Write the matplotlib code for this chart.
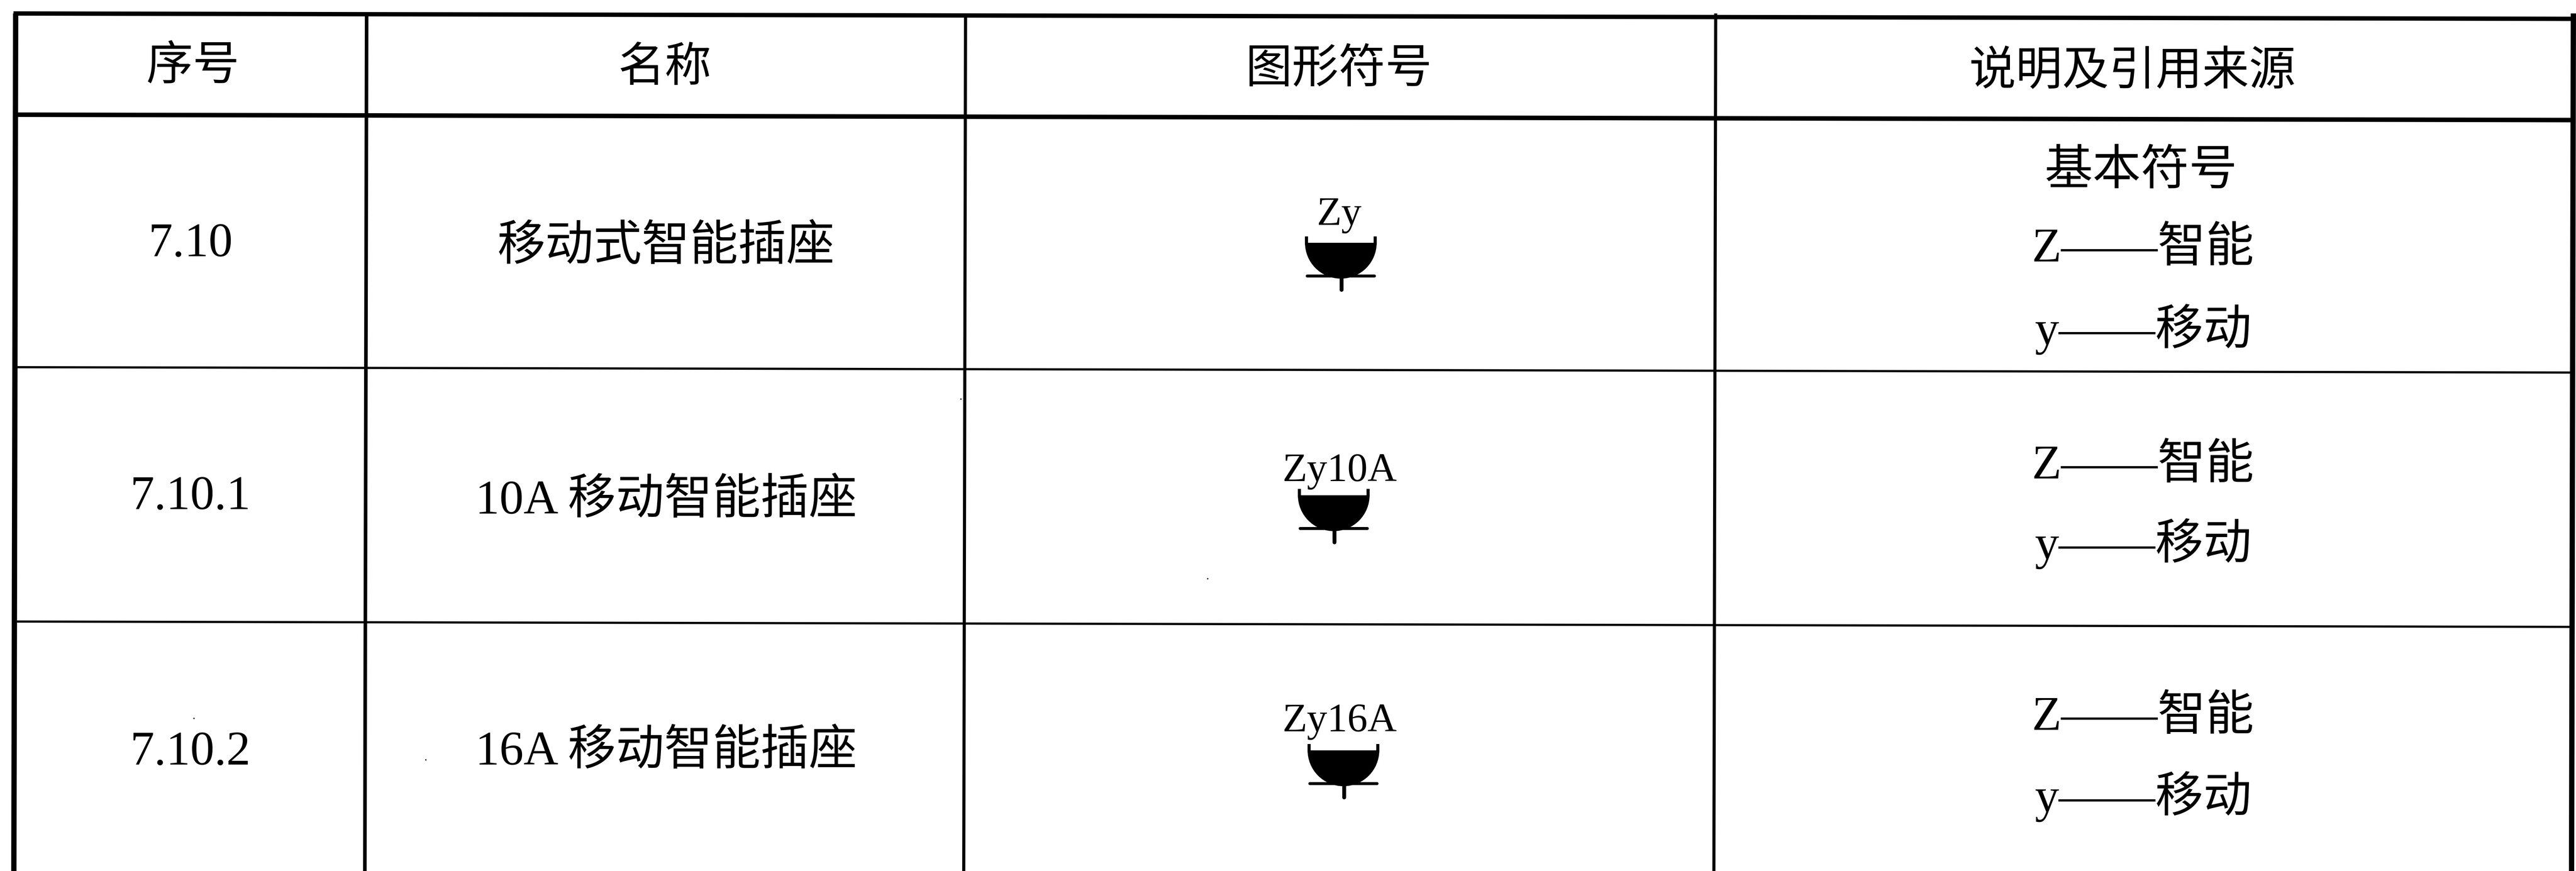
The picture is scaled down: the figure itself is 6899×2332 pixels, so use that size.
import matplotlib
matplotlib.use("Agg")
import matplotlib.pyplot as plt
from matplotlib.patches import Wedge

plt.rcParams['font.family'] = ['Liberation Serif', 'Noto Sans CJK SC']

# Contenido de la tabla
encabezados = ["序号", "名称", "图形符号", "说明及引用来源"]
numeros = ["7.10", "7.10.1", "7.10.2"]
nombres = ["移动式智能插座", "10A 移动智能插座", "16A 移动智能插座"]
simbolos = ["Zy", "Zy10A", "Zy16A"]
notas = [["基本符号", "Z——智能", "y——移动"],
         ["Z——智能", "y——移动"],
         ["Z——智能", "y——移动"]]

# Rejilla en pixeles de la imagen (el escaneo esta un poco girado)
col_x = [42, 982, 2586, 4595, 6892]
col_lw = [3.4, 2.3, 2.0, 2.0, 3.4]
fila_y = [36, 307, 983, 1664]
fila_lw = [2.8, 2.9, 1.4, 1.4]
giro = 0.0021
ancho, alto = 6899, 2332

# Motas del escaneo
motas_x = [1140, 2573, 519, 3234]
motas_y = [2034, 1068, 1923, 1549]

fig = plt.figure(figsize=(ancho / 300, alto / 300), dpi=300)
ax = fig.add_axes([0, 0, 1, 1])
ax.set_xlim(0, ancho)
ax.set_ylim(alto, 0)
ax.axis("off")

for y, lw in zip(fila_y, fila_lw):
    ax.plot([col_x[0], col_x[-1]], [y + giro * col_x[0], y + giro * col_x[-1]],
            color="black", lw=lw, solid_capstyle="projecting")
for x, lw in zip(col_x, col_lw):
    ax.plot([x - giro * fila_y[0], x - giro * alto], [fila_y[0], alto],
            color="black", lw=lw, solid_capstyle="butt")

ax.plot(motas_x, motas_y, ls="none", marker="o", ms=0.9, color="black", mew=0)


def simbolo(cx, arriba, ax):
    # Cuenco negro: medio circulo, dos labios, raya y patita
    r = 96
    base = arriba + 17
    ax.add_patch(Wedge((cx, base), r, 0, 180, facecolor="black", edgecolor="none"))
    for lado in (-1, 1):
        ax.plot([cx + lado * (r - 4)] * 2, [arriba, base + 5], color="black", lw=2.0,
                solid_capstyle="butt")
    ax.plot([cx - 90, cx + 90], [arriba + 106, arriba + 106], color="black", lw=1.9,
            solid_capstyle="round")
    ax.plot([cx + 2, cx + 2], [arriba + 106, arriba + 143], color="black", lw=2.5,
            solid_capstyle="round")


for t, x, y in zip(encabezados, [516, 1780, 3586, 5711], [182, 186, 190, 196]):
    ax.text(x, y, t, fontsize=30, ha="center", va="center")

for t, y in zip(numeros, [655, 1332, 2016]):
    ax.text(510, y, t, fontsize=31, ha="center", va="center")

for t, x, y in zip(nombres, [1784, 1784, 1784], [664, 1343, 2015]):
    ax.text(x, y, t, fontsize=31, ha="center", va="center")

# Columna de simbolos
sim_x = [3591, 3572, 3598]
sim_y = [633, 1309, 1992]
txt_x = [3587, 3588, 3588]
txt_base = [602, 1288, 1958]
for x, y, tx, ty, s in zip(sim_x, sim_y, txt_x, txt_base, simbolos):
    simbolo(x, y, ax)
    ax.text(tx, ty, s, fontsize=26, ha="center", va="baseline")

# Columna de notas
nota_y = [[463, 668, 882], [1249, 1456], [1922, 2133]]
nota_x = [[5734, 5740, 5740], [5740, 5740], [5740, 5740]]
for ys, xs, lineas in zip(nota_y, nota_x, notas):
    for y, x, t in zip(ys, xs, lineas):
        ax.text(x, y, t, fontsize=31, ha="center", va="center")

fig.savefig("out.png", dpi=300)
